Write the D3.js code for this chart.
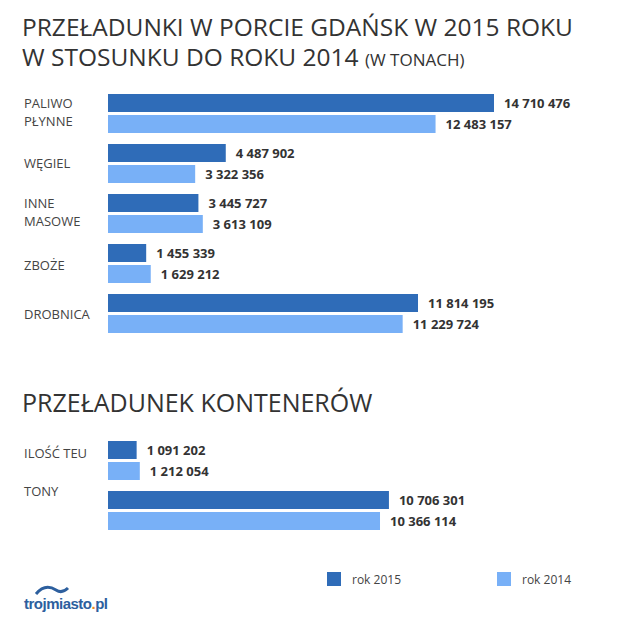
<!DOCTYPE html>
<html><head><meta charset="utf-8">
<script src="https://cdn.jsdelivr.net/npm/d3@7"></script>
<style>body{margin:0;background:#fff}</style>
</head><body><div id="container"></div>
<script>
var cats1 = [["PALIWO","PŁYNNE"],["WĘGIEL"],["INNE","MASOWE"],["ZBOŻE"],["DROBNICA"]];
var v2015a = [14710476, 4487902, 3445727, 1455339, 11814195];
var v2014a = [12483157, 3322356, 3613109, 1629212, 11229724];
var cats2 = [["ILOŚĆ TEU"],["TONY"]];
var v2015b = [1091202, 10706301];
var v2014b = [1212054, 10366114];
var c15 = "#2f6cb8", c14 = "#78b0f7";
var font = "'Open Sans', sans-serif";

var w = 620, h = 627;
var svg = d3.select("#container").append("svg").attr("width", w).attr("height", h);
var x = d3.scaleLinear().domain([0, 14710476]).range([108, 494]);
var fmt = function(d){ return d3.format(",")(d).replace(/,/g, " "); };

svg.append("text").attr("x", 22).attr("y", 36).attr("font-family", font).attr("font-size", 24.5)
  .attr("fill", "#333").text("PRZEŁADUNKI W PORCIE GDAŃSK W 2015 ROKU");
var t2 = svg.append("text").attr("x", 22).attr("y", 66).attr("font-family", font).attr("font-size", 24.5).attr("fill", "#333");
t2.append("tspan").text("W STOSUNKU DO ROKU 2014 ");
t2.append("tspan").attr("font-size", 17).text("(W TONACH)");
svg.append("text").attr("x", 22).attr("y", 412).attr("font-family", font).attr("font-size", 25)
  .attr("fill", "#333").text("PRZEŁADUNEK KONTENERÓW");

function group(cats, a, b, top, lab) {
  var y = d3.scaleBand().domain(d3.range(cats.length)).range([top, top + 50 * cats.length]);
  cats.forEach(function(c, i) {
    var y0 = y(i);
    c.forEach(function(s, j) {
      svg.append("text").attr("font-family", font).attr("font-size", 13).attr("fill", "#444")
        .attr("x", 24).attr("y", y0 + (c.length == 1 ? lab[i] : 14 + j * 18)).text(s);
    });
    [[a[i], c15, 0], [b[i], c14, 21]].forEach(function(p) {
      svg.append("rect").attr("x", x(0)).attr("y", y0 + p[2]).attr("width", x(p[0]) - x(0))
        .attr("height", 18).attr("fill", p[1]);
      svg.append("text").attr("x", x(p[0]) + 10).attr("y", y0 + p[2] + 14)
        .attr("font-family", font).attr("font-size", 13).attr("font-weight", "bold")
        .attr("fill", "#333").text(fmt(p[0]));
    });
  });
}
group(cats1, v2015a, v2014a, 94, [0, 24, 0, 26, 25]);
group(cats2, v2015b, v2014b, 441, [17, 5]);

[["rok 2015", c15, 327], ["rok 2014", c14, 497]].forEach(function(l) {
  svg.append("rect").attr("x", l[2]).attr("y", 572).attr("width", 14).attr("height", 14).attr("fill", l[1]);
  svg.append("text").attr("x", l[2] + 25).attr("y", 584).attr("font-family", font)
    .attr("font-size", 12).attr("fill", "#444").text(l[0]);
});

svg.append("path").attr("d", "M36,594 Q45,583 56,590 Q62,594 68,588")
  .attr("fill", "none").attr("stroke", "#2d5f9e").attr("stroke-width", 3);
var lg = svg.append("text").attr("x", 24).attr("y", 609).attr("font-family", "'Liberation Sans Narrow', Arial, sans-serif")
  .attr("font-size", 15).attr("font-weight", "bold").attr("fill", "#2d5f9e").attr("letter-spacing", -0.5);
lg.append("tspan").text("trojmiasto");
lg.append("tspan").attr("fill", "#f08a1c").text(".");
lg.append("tspan").text("pl");
</script></body></html>
